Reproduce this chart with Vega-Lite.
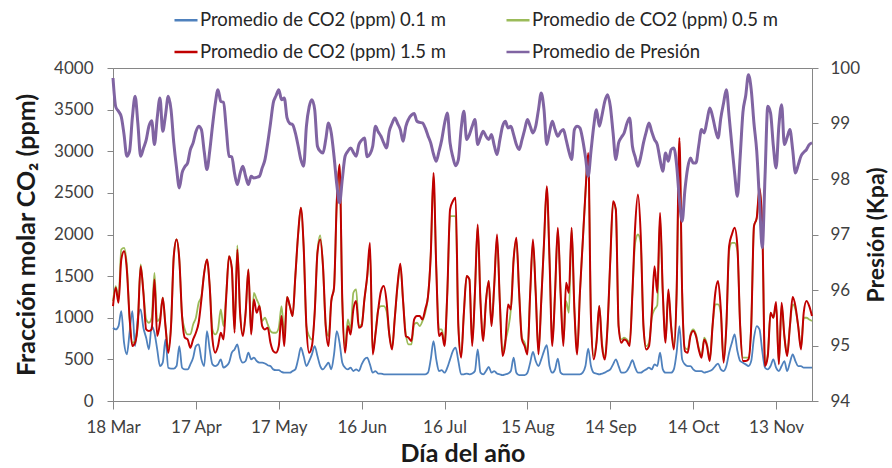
{
"$schema":"https://vega.github.io/schema/vega-lite/v6.json",
"width":699,"height":333,
"autosize":{"type":"none"},
"padding":{"left":113,"top":68,"right":80,"bottom":67},
"background":"white",
"config":{
 "font":"Lato",
 "view":{"stroke":"#868686","strokeWidth":1},
 "axis":{"domainColor":"#868686","tickColor":"#868686","labelColor":"#404040","labelFont":"Lato","labelFontSize":17,"titleFont":"Lato","titleFontSize":25,"titleFontWeight":"bold","titleColor":"#1a1a1a","grid":false,"tickSize":6,"domainWidth":1,"tickWidth":1}
},
"data":{"values":[
{"fecha":"2013-03-18","c01":880,"c05":1200,"c15":1140,"p":99.82},
{"fecha":"2013-03-19","c01":860,"c05":1380,"c15":1360,"p":99.30},
{"fecha":"2013-03-20","c01":900,"c05":1220,"c15":1180,"p":99.22},
{"fecha":"2013-03-21","c01":1080,"c05":1820,"c15":1700,"p":99.12},
{"fecha":"2013-03-22","c01":700,"c05":1840,"c15":1800,"p":98.80},
{"fecha":"2013-03-23","c01":560,"c05":1640,"c15":1580,"p":98.41},
{"fecha":"2013-03-24","c01":820,"c05":1000,"c15":1000,"p":98.50},
{"fecha":"2013-03-25","c01":1080,"c05":700,"c15":660,"p":99.10},
{"fecha":"2013-03-26","c01":660,"c05":720,"c15":700,"p":99.49},
{"fecha":"2013-03-27","c01":1000,"c05":960,"c15":940,"p":99.00},
{"fecha":"2013-03-28","c01":1100,"c05":1640,"c15":1620,"p":98.41},
{"fecha":"2013-03-29","c01":880,"c05":1320,"c15":1300,"p":98.55},
{"fecha":"2013-03-30","c01":760,"c05":980,"c15":860,"p":98.70},
{"fecha":"2013-03-31","c01":620,"c05":940,"c15":840,"p":98.95},
{"fecha":"2013-04-01","c01":900,"c05":1000,"c15":860,"p":99.05},
{"fecha":"2013-04-02","c01":820,"c05":1540,"c15":1460,"p":98.62},
{"fecha":"2013-04-03","c01":620,"c05":960,"c15":780,"p":99.10},
{"fecha":"2013-04-04","c01":420,"c05":1000,"c15":940,"p":99.46},
{"fecha":"2013-04-05","c01":460,"c05":1240,"c15":1240,"p":98.86},
{"fecha":"2013-04-06","c01":740,"c05":900,"c15":900,"p":99.15},
{"fecha":"2013-04-07","c01":400,"c05":640,"c15":580,"p":99.49},
{"fecha":"2013-04-08","c01":390,"c05":900,"c15":900,"p":99.25},
{"fecha":"2013-04-09","c01":390,"c05":1740,"c15":1740,"p":98.65},
{"fecha":"2013-04-10","c01":420,"c05":1940,"c15":1940,"p":98.20},
{"fecha":"2013-04-11","c01":660,"c05":1700,"c15":1700,"p":97.84},
{"fecha":"2013-04-12","c01":400,"c05":1020,"c15":1020,"p":98.11},
{"fecha":"2013-04-13","c01":380,"c05":860,"c15":760,"p":98.22},
{"fecha":"2013-04-14","c01":380,"c05":800,"c15":740,"p":98.29},
{"fecha":"2013-04-15","c01":440,"c05":800,"c15":640,"p":98.53},
{"fecha":"2013-04-16","c01":520,"c05":920,"c15":740,"p":98.65},
{"fecha":"2013-04-17","c01":660,"c05":1000,"c15":820,"p":98.85},
{"fecha":"2013-04-18","c01":680,"c05":1180,"c15":940,"p":98.95},
{"fecha":"2013-04-19","c01":500,"c05":1260,"c15":1220,"p":98.89},
{"fecha":"2013-04-20","c01":420,"c05":1540,"c15":1540,"p":98.50},
{"fecha":"2013-04-21","c01":840,"c05":1700,"c15":1700,"p":98.17},
{"fecha":"2013-04-22","c01":620,"c05":1380,"c15":1380,"p":98.50},
{"fecha":"2013-04-23","c01":440,"c05":860,"c15":740,"p":98.95},
{"fecha":"2013-04-24","c01":420,"c05":800,"c15":580,"p":99.35},
{"fecha":"2013-04-25","c01":440,"c05":860,"c15":660,"p":99.61},
{"fecha":"2013-04-26","c01":500,"c05":1100,"c15":820,"p":99.40},
{"fecha":"2013-04-27","c01":400,"c05":900,"c15":740,"p":99.38},
{"fecha":"2013-04-28","c01":420,"c05":1300,"c15":1260,"p":98.90},
{"fecha":"2013-04-29","c01":460,"c05":1740,"c15":1740,"p":98.41},
{"fecha":"2013-04-30","c01":580,"c05":1600,"c15":1600,"p":98.40},
{"fecha":"2013-05-01","c01":620,"c05":860,"c15":820,"p":98.10},
{"fecha":"2013-05-02","c01":680,"c05":1870,"c15":1820,"p":97.90},
{"fecha":"2013-05-03","c01":520,"c05":1060,"c15":1060,"p":98.10},
{"fecha":"2013-05-04","c01":460,"c05":800,"c15":780,"p":98.23},
{"fecha":"2013-05-05","c01":480,"c05":1060,"c15":1060,"p":98.05},
{"fecha":"2013-05-06","c01":580,"c05":1580,"c15":1580,"p":97.90},
{"fecha":"2013-05-07","c01":500,"c05":820,"c15":800,"p":98.05},
{"fecha":"2013-05-08","c01":520,"c05":1300,"c15":1220,"p":98.02},
{"fecha":"2013-05-09","c01":480,"c05":1220,"c15":1060,"p":98.03},
{"fecha":"2013-05-10","c01":460,"c05":1140,"c15":1140,"p":98.05},
{"fecha":"2013-05-11","c01":460,"c05":960,"c15":900,"p":98.20},
{"fecha":"2013-05-12","c01":450,"c05":1000,"c15":860,"p":98.35},
{"fecha":"2013-05-13","c01":430,"c05":920,"c15":880,"p":98.65},
{"fecha":"2013-05-14","c01":420,"c05":840,"c15":700,"p":99.00},
{"fecha":"2013-05-15","c01":380,"c05":820,"c15":600,"p":99.37},
{"fecha":"2013-05-16","c01":370,"c05":820,"c15":580,"p":99.50},
{"fecha":"2013-05-17","c01":370,"c05":880,"c15":660,"p":99.61},
{"fecha":"2013-05-18","c01":350,"c05":1140,"c15":1020,"p":99.43},
{"fecha":"2013-05-19","c01":340,"c05":800,"c15":660,"p":99.46},
{"fecha":"2013-05-20","c01":340,"c05":1250,"c15":1250,"p":99.10},
{"fecha":"2013-05-21","c01":340,"c05":1140,"c15":1140,"p":99.00},
{"fecha":"2013-05-22","c01":360,"c05":1020,"c15":1020,"p":98.98},
{"fecha":"2013-05-23","c01":380,"c05":1500,"c15":1500,"p":98.83},
{"fecha":"2013-05-24","c01":500,"c05":2000,"c15":2000,"p":98.60},
{"fecha":"2013-05-25","c01":640,"c05":2320,"c15":2320,"p":98.35},
{"fecha":"2013-05-26","c01":540,"c05":1860,"c15":1860,"p":98.23},
{"fecha":"2013-05-27","c01":420,"c05":900,"c15":900,"p":98.95},
{"fecha":"2013-05-28","c01":480,"c05":780,"c15":580,"p":99.30},
{"fecha":"2013-05-29","c01":560,"c05":740,"c15":660,"p":99.43},
{"fecha":"2013-05-30","c01":660,"c05":1060,"c15":1060,"p":99.25},
{"fecha":"2013-05-31","c01":540,"c05":1800,"c15":1780,"p":98.59},
{"fecha":"2013-06-01","c01":420,"c05":1990,"c15":1940,"p":98.50},
{"fecha":"2013-06-02","c01":380,"c05":1620,"c15":1620,"p":98.47},
{"fecha":"2013-06-03","c01":420,"c05":900,"c15":900,"p":98.71},
{"fecha":"2013-06-04","c01":460,"c05":780,"c15":660,"p":99.01},
{"fecha":"2013-06-05","c01":380,"c05":1200,"c15":1200,"p":98.83},
{"fecha":"2013-06-06","c01":560,"c05":1360,"c15":1360,"p":98.41},
{"fecha":"2013-06-07","c01":840,"c05":2400,"c15":2400,"p":97.90},
{"fecha":"2013-06-08","c01":700,"c05":2840,"c15":2840,"p":97.57},
{"fecha":"2013-06-09","c01":460,"c05":1200,"c15":1200,"p":98.00},
{"fecha":"2013-06-10","c01":400,"c05":660,"c15":580,"p":98.41},
{"fecha":"2013-06-11","c01":380,"c05":980,"c15":900,"p":98.50},
{"fecha":"2013-06-12","c01":400,"c05":860,"c15":800,"p":98.56},
{"fecha":"2013-06-13","c01":360,"c05":1300,"c15":1100,"p":98.48},
{"fecha":"2013-06-14","c01":380,"c05":1340,"c15":1200,"p":98.41},
{"fecha":"2013-06-15","c01":360,"c05":900,"c15":880,"p":98.62},
{"fecha":"2013-06-16","c01":440,"c05":920,"c15":900,"p":98.70},
{"fecha":"2013-06-17","c01":500,"c05":1220,"c15":1220,"p":98.74},
{"fecha":"2013-06-18","c01":520,"c05":1480,"c15":1500,"p":98.40},
{"fecha":"2013-06-19","c01":440,"c05":1820,"c15":1900,"p":98.45},
{"fecha":"2013-06-20","c01":340,"c05":580,"c15":560,"p":98.59},
{"fecha":"2013-06-21","c01":360,"c05":820,"c15":800,"p":98.95},
{"fecha":"2013-06-22","c01":330,"c05":1100,"c15":1100,"p":98.85},
{"fecha":"2013-06-23","c01":330,"c05":1140,"c15":1320,"p":98.77},
{"fecha":"2013-06-24","c01":320,"c05":1140,"c15":1380,"p":98.65},
{"fecha":"2013-06-25","c01":320,"c05":1080,"c15":1200,"p":98.56},
{"fecha":"2013-06-26","c01":320,"c05":800,"c15":800,"p":98.86},
{"fecha":"2013-06-27","c01":320,"c05":640,"c15":620,"p":99.00},
{"fecha":"2013-06-28","c01":320,"c05":1000,"c15":1000,"p":99.10},
{"fecha":"2013-06-29","c01":320,"c05":1380,"c15":1400,"p":99.00},
{"fecha":"2013-06-30","c01":320,"c05":1620,"c15":1650,"p":98.89},
{"fecha":"2013-07-01","c01":320,"c05":1200,"c15":1200,"p":98.68},
{"fecha":"2013-07-02","c01":320,"c05":800,"c15":780,"p":98.95},
{"fecha":"2013-07-03","c01":320,"c05":680,"c15":760,"p":99.08},
{"fecha":"2013-07-04","c01":320,"c05":680,"c15":720,"p":99.15},
{"fecha":"2013-07-05","c01":320,"c05":920,"c15":980,"p":99.18},
{"fecha":"2013-07-06","c01":320,"c05":940,"c15":1020,"p":99.04},
{"fecha":"2013-07-07","c01":320,"c05":900,"c15":1020,"p":99.02},
{"fecha":"2013-07-08","c01":320,"c05":960,"c15":980,"p":99.01},
{"fecha":"2013-07-09","c01":320,"c05":1060,"c15":1100,"p":98.92},
{"fecha":"2013-07-10","c01":340,"c05":1250,"c15":1250,"p":98.78},
{"fecha":"2013-07-11","c01":500,"c05":1750,"c15":1750,"p":98.65},
{"fecha":"2013-07-12","c01":720,"c05":2700,"c15":2740,"p":98.45},
{"fecha":"2013-07-13","c01":500,"c05":1600,"c15":1600,"p":98.32},
{"fecha":"2013-07-14","c01":360,"c05":860,"c15":780,"p":98.50},
{"fecha":"2013-07-15","c01":370,"c05":860,"c15":820,"p":98.71},
{"fecha":"2013-07-16","c01":340,"c05":700,"c15":660,"p":99.00},
{"fecha":"2013-07-17","c01":400,"c05":1300,"c15":1300,"p":99.19},
{"fecha":"2013-07-18","c01":500,"c05":2220,"c15":2300,"p":98.65},
{"fecha":"2013-07-19","c01":600,"c05":2220,"c15":2400,"p":98.40},
{"fecha":"2013-07-20","c01":640,"c05":2220,"c15":2440,"p":98.24},
{"fecha":"2013-07-21","c01":480,"c05":900,"c15":900,"p":98.35},
{"fecha":"2013-07-22","c01":320,"c05":540,"c15":520,"p":98.90},
{"fecha":"2013-07-23","c01":320,"c05":1060,"c15":1060,"p":99.22},
{"fecha":"2013-07-24","c01":330,"c05":1500,"c15":1500,"p":98.71},
{"fecha":"2013-07-25","c01":320,"c05":1460,"c15":1460,"p":98.80},
{"fecha":"2013-07-26","c01":330,"c05":700,"c15":660,"p":98.95},
{"fecha":"2013-07-27","c01":360,"c05":1300,"c15":1300,"p":99.07},
{"fecha":"2013-07-28","c01":620,"c05":2100,"c15":2120,"p":98.62},
{"fecha":"2013-07-29","c01":340,"c05":1200,"c15":1200,"p":98.75},
{"fecha":"2013-07-30","c01":320,"c05":760,"c15":720,"p":98.86},
{"fecha":"2013-07-31","c01":360,"c05":1200,"c15":1200,"p":98.77},
{"fecha":"2013-08-01","c01":410,"c05":1440,"c15":1440,"p":98.71},
{"fecha":"2013-08-02","c01":340,"c05":920,"c15":900,"p":98.80},
{"fecha":"2013-08-03","c01":360,"c05":1400,"c15":1400,"p":98.60},
{"fecha":"2013-08-04","c01":330,"c05":1960,"c15":2000,"p":98.44},
{"fecha":"2013-08-05","c01":320,"c05":1200,"c15":1200,"p":98.70},
{"fecha":"2013-08-06","c01":310,"c05":580,"c15":540,"p":98.95},
{"fecha":"2013-08-07","c01":320,"c05":720,"c15":700,"p":99.04},
{"fecha":"2013-08-08","c01":330,"c05":860,"c15":1160,"p":98.92},
{"fecha":"2013-08-09","c01":360,"c05":1100,"c15":1100,"p":98.95},
{"fecha":"2013-08-10","c01":520,"c05":1700,"c15":1700,"p":98.80},
{"fecha":"2013-08-11","c01":340,"c05":1920,"c15":1960,"p":98.62},
{"fecha":"2013-08-12","c01":310,"c05":1300,"c15":1300,"p":98.53},
{"fecha":"2013-08-13","c01":310,"c05":760,"c15":740,"p":98.70},
{"fecha":"2013-08-14","c01":310,"c05":700,"c15":660,"p":98.89},
{"fecha":"2013-08-15","c01":340,"c05":600,"c15":560,"p":99.07},
{"fecha":"2013-08-16","c01":460,"c05":1300,"c15":1300,"p":98.95},
{"fecha":"2013-08-17","c01":590,"c05":1900,"c15":1940,"p":98.83},
{"fecha":"2013-08-18","c01":480,"c05":1300,"c15":1300,"p":98.95},
{"fecha":"2013-08-19","c01":420,"c05":600,"c15":560,"p":99.25},
{"fecha":"2013-08-20","c01":500,"c05":1200,"c15":1200,"p":99.55},
{"fecha":"2013-08-21","c01":600,"c05":1900,"c15":1900,"p":99.25},
{"fecha":"2013-08-22","c01":670,"c05":2560,"c15":2580,"p":98.62},
{"fecha":"2013-08-23","c01":420,"c05":1700,"c15":1700,"p":98.85},
{"fecha":"2013-08-24","c01":340,"c05":700,"c15":660,"p":99.04},
{"fecha":"2013-08-25","c01":380,"c05":1300,"c15":1300,"p":98.89},
{"fecha":"2013-08-26","c01":510,"c05":2060,"c15":2080,"p":98.77},
{"fecha":"2013-08-27","c01":340,"c05":1300,"c15":1300,"p":98.85},
{"fecha":"2013-08-28","c01":320,"c05":720,"c15":660,"p":98.89},
{"fecha":"2013-08-29","c01":320,"c05":1200,"c15":1420,"p":98.71},
{"fecha":"2013-08-30","c01":320,"c05":1060,"c15":1300,"p":98.50},
{"fecha":"2013-08-31","c01":320,"c05":2060,"c15":2080,"p":98.35},
{"fecha":"2013-09-01","c01":320,"c05":1100,"c15":1100,"p":98.89},
{"fecha":"2013-09-02","c01":320,"c05":600,"c15":560,"p":98.95},
{"fecha":"2013-09-03","c01":320,"c05":1300,"c15":1300,"p":98.92},
{"fecha":"2013-09-04","c01":340,"c05":1900,"c15":1900,"p":98.71},
{"fecha":"2013-09-05","c01":420,"c05":2500,"c15":2500,"p":98.40},
{"fecha":"2013-09-06","c01":630,"c05":2950,"c15":2980,"p":98.05},
{"fecha":"2013-09-07","c01":420,"c05":1000,"c15":1000,"p":98.50},
{"fecha":"2013-09-08","c01":340,"c05":540,"c15":500,"p":98.95},
{"fecha":"2013-09-09","c01":330,"c05":720,"c15":700,"p":99.25},
{"fecha":"2013-09-10","c01":320,"c05":1140,"c15":1140,"p":98.95},
{"fecha":"2013-09-11","c01":330,"c05":700,"c15":660,"p":99.15},
{"fecha":"2013-09-12","c01":340,"c05":540,"c15":500,"p":99.40},
{"fecha":"2013-09-13","c01":360,"c05":900,"c15":900,"p":99.52},
{"fecha":"2013-09-14","c01":380,"c05":1700,"c15":1700,"p":99.31},
{"fecha":"2013-09-15","c01":440,"c05":2380,"c15":2400,"p":98.83},
{"fecha":"2013-09-16","c01":500,"c05":2300,"c15":2300,"p":98.35},
{"fecha":"2013-09-17","c01":420,"c05":900,"c15":900,"p":98.65},
{"fecha":"2013-09-18","c01":340,"c05":740,"c15":700,"p":98.75},
{"fecha":"2013-09-19","c01":340,"c05":760,"c15":740,"p":98.83},
{"fecha":"2013-09-20","c01":360,"c05":740,"c15":720,"p":99.00},
{"fecha":"2013-09-21","c01":420,"c05":700,"c15":660,"p":99.10},
{"fecha":"2013-09-22","c01":490,"c05":1300,"c15":1300,"p":98.59},
{"fecha":"2013-09-23","c01":400,"c05":1900,"c15":2100,"p":98.40},
{"fecha":"2013-09-24","c01":340,"c05":2000,"c15":2480,"p":98.23},
{"fecha":"2013-09-25","c01":340,"c05":1900,"c15":2000,"p":98.40},
{"fecha":"2013-09-26","c01":360,"c05":900,"c15":900,"p":98.65},
{"fecha":"2013-09-27","c01":380,"c05":660,"c15":620,"p":98.85},
{"fecha":"2013-09-28","c01":400,"c05":700,"c15":660,"p":99.01},
{"fecha":"2013-09-29","c01":380,"c05":1000,"c15":1060,"p":98.85},
{"fecha":"2013-09-30","c01":440,"c05":1100,"c15":1620,"p":98.71},
{"fecha":"2013-10-01","c01":420,"c05":1150,"c15":1300,"p":98.62},
{"fecha":"2013-10-02","c01":580,"c05":2200,"c15":2260,"p":98.35},
{"fecha":"2013-10-03","c01":380,"c05":1300,"c15":1300,"p":98.14},
{"fecha":"2013-10-04","c01":340,"c05":740,"c15":700,"p":98.47},
{"fecha":"2013-10-05","c01":340,"c05":1300,"c15":1340,"p":98.32},
{"fecha":"2013-10-06","c01":340,"c05":900,"c15":900,"p":98.53},
{"fecha":"2013-10-07","c01":380,"c05":660,"c15":620,"p":98.56},
{"fecha":"2013-10-08","c01":580,"c05":1300,"c15":1300,"p":98.25},
{"fecha":"2013-10-09","c01":900,"c05":3100,"c15":3160,"p":97.63},
{"fecha":"2013-10-10","c01":500,"c05":1300,"c15":1300,"p":97.24},
{"fecha":"2013-10-11","c01":440,"c05":640,"c15":600,"p":97.80},
{"fecha":"2013-10-12","c01":420,"c05":620,"c15":580,"p":98.20},
{"fecha":"2013-10-13","c01":420,"c05":800,"c15":780,"p":98.38},
{"fecha":"2013-10-14","c01":380,"c05":860,"c15":840,"p":98.29},
{"fecha":"2013-10-15","c01":360,"c05":800,"c15":780,"p":98.29},
{"fecha":"2013-10-16","c01":360,"c05":640,"c15":620,"p":98.60},
{"fecha":"2013-10-17","c01":360,"c05":540,"c15":520,"p":98.89},
{"fecha":"2013-10-18","c01":340,"c05":760,"c15":740,"p":98.83},
{"fecha":"2013-10-19","c01":350,"c05":680,"c15":660,"p":99.05},
{"fecha":"2013-10-20","c01":360,"c05":500,"c15":480,"p":99.28},
{"fecha":"2013-10-21","c01":380,"c05":900,"c15":900,"p":99.13},
{"fecha":"2013-10-22","c01":420,"c05":1160,"c15":1300,"p":98.90},
{"fecha":"2013-10-23","c01":450,"c05":1160,"c15":1440,"p":98.74},
{"fecha":"2013-10-24","c01":380,"c05":1050,"c15":1100,"p":99.10},
{"fecha":"2013-10-25","c01":360,"c05":480,"c15":460,"p":99.37},
{"fecha":"2013-10-26","c01":420,"c05":900,"c15":900,"p":99.61},
{"fecha":"2013-10-27","c01":580,"c05":1800,"c15":1860,"p":99.13},
{"fecha":"2013-10-28","c01":700,"c05":1900,"c15":2000,"p":98.60},
{"fecha":"2013-10-29","c01":800,"c05":1900,"c15":2080,"p":98.10},
{"fecha":"2013-10-30","c01":600,"c05":1800,"c15":1860,"p":97.69},
{"fecha":"2013-10-31","c01":480,"c05":900,"c15":900,"p":98.40},
{"fecha":"2013-11-01","c01":460,"c05":520,"c15":480,"p":99.20},
{"fecha":"2013-11-02","c01":440,"c05":520,"c15":480,"p":99.50},
{"fecha":"2013-11-03","c01":420,"c05":520,"c15":500,"p":99.88},
{"fecha":"2013-11-04","c01":480,"c05":900,"c15":900,"p":99.61},
{"fecha":"2013-11-05","c01":760,"c05":2100,"c15":2100,"p":99.00},
{"fecha":"2013-11-06","c01":900,"c05":2200,"c15":2200,"p":98.50},
{"fecha":"2013-11-07","c01":860,"c05":2540,"c15":2560,"p":97.60},
{"fecha":"2013-11-08","c01":600,"c05":2100,"c15":2100,"p":96.76},
{"fecha":"2013-11-09","c01":400,"c05":440,"c15":420,"p":98.05},
{"fecha":"2013-11-10","c01":380,"c05":560,"c15":540,"p":99.31},
{"fecha":"2013-11-11","c01":420,"c05":1060,"c15":1060,"p":99.19},
{"fecha":"2013-11-12","c01":500,"c05":1000,"c15":1000,"p":98.60},
{"fecha":"2013-11-13","c01":400,"c05":1150,"c15":1190,"p":98.20},
{"fecha":"2013-11-14","c01":360,"c05":460,"c15":440,"p":98.95},
{"fecha":"2013-11-15","c01":420,"c05":1150,"c15":1180,"p":99.34},
{"fecha":"2013-11-16","c01":480,"c05":780,"c15":780,"p":98.62},
{"fecha":"2013-11-17","c01":360,"c05":560,"c15":540,"p":98.75},
{"fecha":"2013-11-18","c01":460,"c05":900,"c15":900,"p":98.89},
{"fecha":"2013-11-19","c01":560,"c05":1160,"c15":1250,"p":98.53},
{"fecha":"2013-11-20","c01":480,"c05":1100,"c15":1140,"p":98.11},
{"fecha":"2013-11-21","c01":420,"c05":900,"c15":900,"p":98.25},
{"fecha":"2013-11-22","c01":420,"c05":640,"c15":620,"p":98.41},
{"fecha":"2013-11-23","c01":400,"c05":1000,"c15":1060,"p":98.48},
{"fecha":"2013-11-24","c01":400,"c05":1000,"c15":1200,"p":98.53},
{"fecha":"2013-11-25","c01":400,"c05":980,"c15":1140,"p":98.62},
{"fecha":"2013-11-26","c01":400,"c05":960,"c15":1020,"p":98.65}
]},
"encoding":{
 "x":{"field":"fecha","type":"temporal",
  "scale":{"type":"utc","domain":[{"year":2013,"month":3,"date":18,"utc":true},{"year":2013,"month":11,"date":26,"utc":true}]},
  "axis":{"title":"Día del año","format":"%-d %b","labelFlush":false,"labelOverlap":false,"tickSize":8,"labelPadding":10,"titlePadding":6,
   "values":[{"year":2013,"month":3,"date":18,"utc":true},{"year":2013,"month":4,"date":17,"utc":true},{"year":2013,"month":5,"date":17,"utc":true},{"year":2013,"month":6,"date":16,"utc":true},{"year":2013,"month":7,"date":16,"utc":true},{"year":2013,"month":8,"date":15,"utc":true},{"year":2013,"month":9,"date":14,"utc":true},{"year":2013,"month":10,"date":14,"utc":true},{"year":2013,"month":11,"date":13,"utc":true}]}}
},
"layer":[
 {"layer":[
  {"mark":{"type":"line","interpolate":"monotone","strokeWidth":1.8},
   "encoding":{
    "y":{"field":"c01","type":"quantitative","scale":{"domain":[0,4000]},
     "axis":{"title":"Fracción molar CO₂ (ppm)","format":"d","values":[0,500,1000,1500,2000,2500,3000,3500,4000],"labelPadding":14,"titlePadding":14}},
    "color":{"datum":"Promedio de CO2 (ppm) 0.1 m","type":"nominal",
     "scale":{"domain":["Promedio de CO2 (ppm) 0.1 m","Promedio de CO2 (ppm) 0.5 m","Promedio de CO2 (ppm) 1.5 m","Promedio de Presión"],"range":["#4F81BD","#9BBB59","#C00000","#8064A2"]},
     "legend":{"orient":"none","legendX":60,"legendY":-61,"columns":2,"direction":"horizontal","title":null,"symbolType":"stroke","symbolSize":530,"symbolStrokeWidth":2.5,"labelFont":"Lato","labelFontSize":18.5,"labelColor":"#262626","labelLimit":400,"columnPadding":55,"rowPadding":9,"labelOffset":1,"padding":0}}}},
  {"mark":{"type":"line","interpolate":"monotone","strokeWidth":1.8},
   "encoding":{
    "y":{"field":"c05","type":"quantitative","scale":{"domain":[0,4000]},
     "axis":{"title":"Fracción molar CO₂ (ppm)","format":"d","values":[0,500,1000,1500,2000,2500,3000,3500,4000],"labelPadding":14,"titlePadding":14}},
    "color":{"datum":"Promedio de CO2 (ppm) 0.5 m","type":"nominal"}}},
  {"mark":{"type":"line","interpolate":"monotone","strokeWidth":2},
   "encoding":{
    "y":{"field":"c15","type":"quantitative","scale":{"domain":[0,4000]},
     "axis":{"title":"Fracción molar CO₂ (ppm)","format":"d","values":[0,500,1000,1500,2000,2500,3000,3500,4000],"labelPadding":14,"titlePadding":14}},
    "color":{"datum":"Promedio de CO2 (ppm) 1.5 m","type":"nominal"}}}
 ]},
 {"mark":{"type":"line","interpolate":"monotone","strokeWidth":3},
  "encoding":{
   "y":{"field":"p","type":"quantitative","scale":{"domain":[94,100]},
    "axis":{"orient":"right","title":"Presión (Kpa)","values":[94,95,96,97,98,99,100],"labelPadding":12,"titlePadding":6,"titleFontSize":23,"titleAngle":270,"titleBaseline":"top"}},
   "color":{"datum":"Promedio de Presión","type":"nominal"}}}
],
"resolve":{"scale":{"y":"independent"}}
}
